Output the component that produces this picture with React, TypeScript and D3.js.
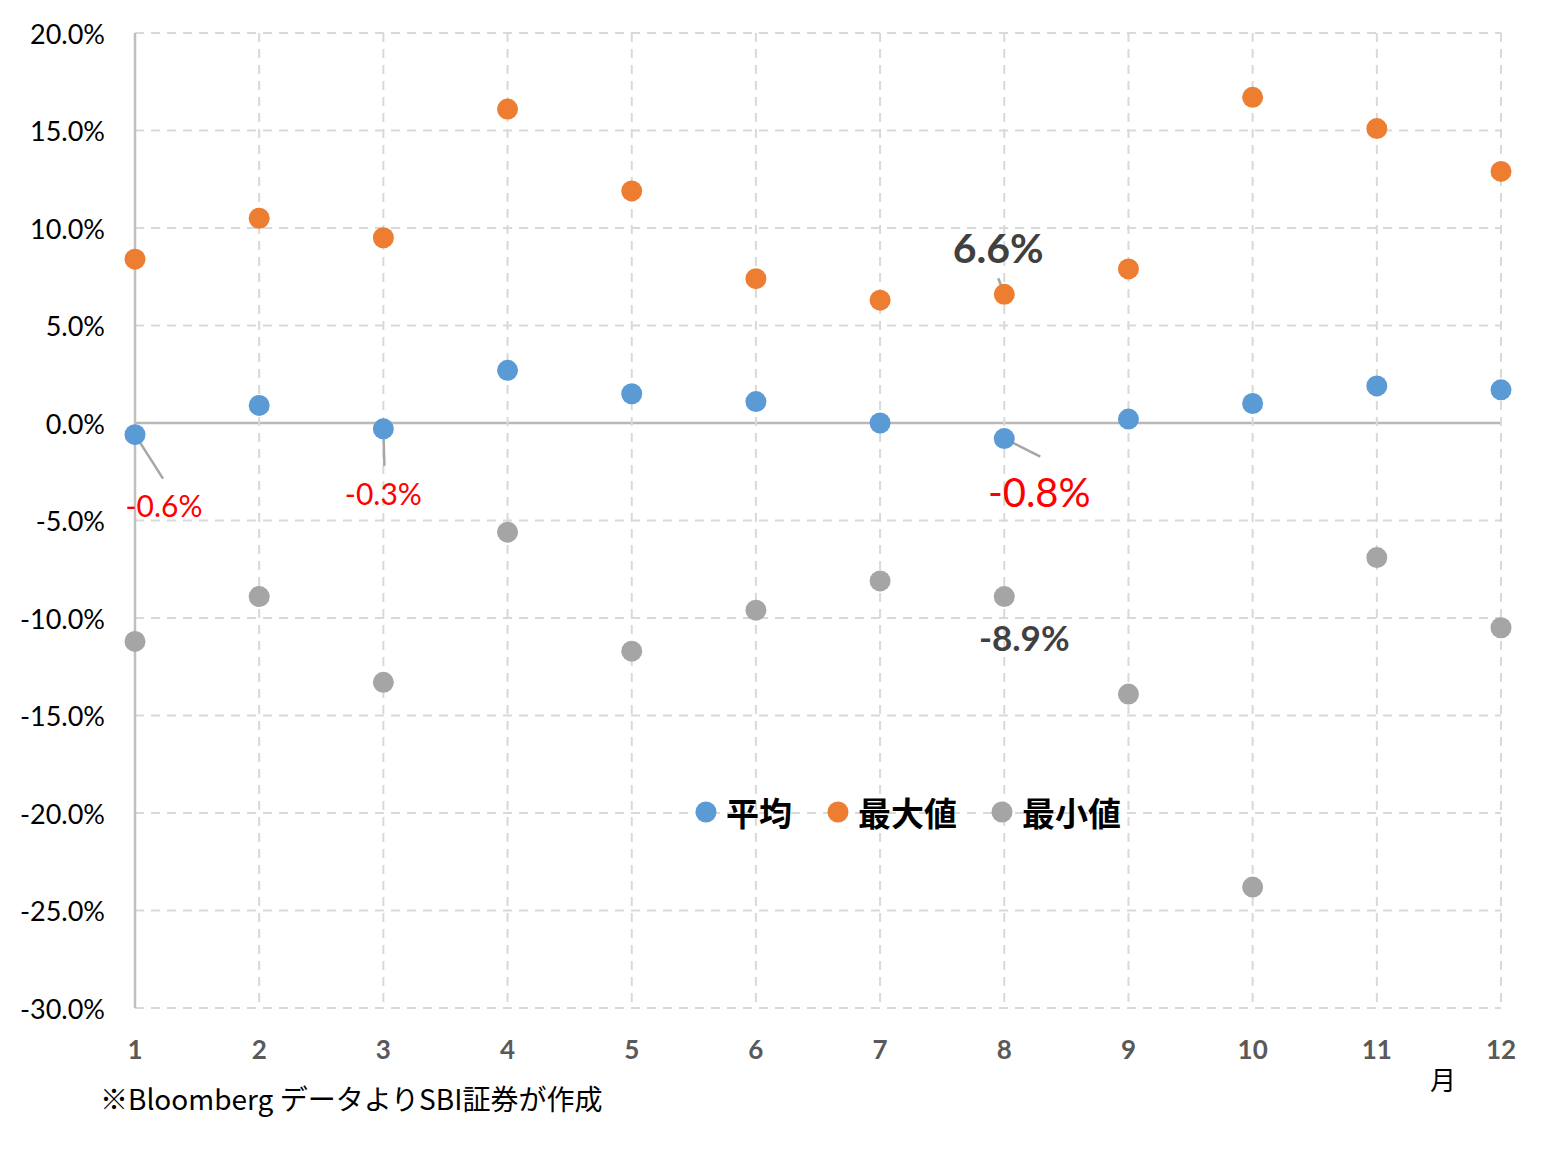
import * as d3 from "d3";

const MONTHS = [1, 2, 3, 4, 5, 6, 7, 8, 9, 10, 11, 12];
const AVG = [-0.6, 0.9, -0.3, 2.7, 1.5, 1.1, 0.0, -0.8, 0.2, 1.0, 1.9, 1.7];
const MAX = [8.4, 10.5, 9.5, 16.1, 11.9, 7.4, 6.3, 6.6, 7.9, 16.7, 15.1, 12.9];
const MIN = [-11.2, -8.9, -13.3, -5.6, -11.7, -9.6, -8.1, -8.9, -13.9, -23.8, -6.9, -10.5];
const Y_TICKS = [20, 15, 10, 5, 0, -5, -10, -15, -20, -25, -30];

const SERIES = [
  { name: "平均", values: AVG, color: "#5b9bd5" },
  { name: "最大値", values: MAX, color: "#ed7d31" },
  { name: "最小値", values: MIN, color: "#a5a5a5" },
];

const LATIN = "Lato, 'Noto Sans', sans-serif";
const CJK = "'Noto Sans CJK JP', sans-serif";

const W = 1548;
const H = 1160;
const M = { top: 33, left: 135, right: 47, bottom: 152 };

export default function App() {
  const x = d3.scaleLinear().domain([1, 12]).range([M.left, W - M.right]);
  const y = d3.scaleLinear().domain([-30, 20]).range([H - M.bottom, M.top]);
  const R = 10.5;

  // data labels with leader lines (offsets from the point)
  const callouts = [
    { s: 0, m: 1, text: "-0.6%", tx: 29, ty: 70, size: 30, color: "#ff0000", bold: false, lx: 28, ly: 44 },
    { s: 0, m: 3, text: "-0.3%", tx: 0, ty: 64, size: 30, color: "#ff0000", bold: false, lx: 1, ly: 37 },
    { s: 0, m: 8, text: "-0.8%", tx: 35, ty: 53, size: 40, color: "#ff0000", bold: false, lx: 36, ly: 18 },
    { s: 1, m: 8, text: "6.6%", tx: -6, ty: -47, size: 41, color: "#404040", bold: true, lx: -6, ly: -16 },
    { s: 2, m: 8, text: "-8.9%", tx: 20, ty: 40, size: 35, color: "#404040", bold: true, lx: 0, ly: 0 },
  ];

  return (
    <svg
      width={W}
      height={H}
      style={{ position: "absolute", left: 0, top: 0, background: "#fff" }}
    >
      {/* horizontal grid */}
      {Y_TICKS.map((t) => (
        <line
          key={"h" + t}
          x1={x(1)}
          x2={x(12)}
          y1={y(t)}
          y2={y(t)}
          stroke={t === 0 ? "#b8b8b8" : "#d9d9d9"}
          strokeWidth={t === 0 ? 2.5 : 2}
          strokeDasharray={t === 0 ? undefined : "9 7"}
        />
      ))}
      {/* vertical grid */}
      {MONTHS.slice(1).map((m) => (
        <line
          key={"v" + m}
          x1={x(m)}
          x2={x(m)}
          y1={y(20)}
          y2={y(-30)}
          stroke="#d9d9d9"
          strokeWidth={2}
          strokeDasharray="9 7"
        />
      ))}
      <line x1={x(1)} x2={x(1)} y1={y(20)} y2={y(-30)} stroke="#bfbfbf" strokeWidth={2.5} />

      {/* y labels */}
      {Y_TICKS.map((t) => (
        <text
          key={"yl" + t}
          x={105}
          y={y(t)}
          textAnchor="end"
          dominantBaseline="central"
          fontFamily={LATIN}
          fontSize={27}
          fill="#000"
        >
          {t.toFixed(1) + "%"}
        </text>
      ))}
      {/* x labels */}
      {MONTHS.map((m) => (
        <text
          key={"xl" + m}
          x={x(m)}
          y={1049}
          textAnchor="middle"
          dominantBaseline="central"
          fontFamily={LATIN}
          fontWeight="bold"
          fontSize={26}
          fill="#595959"
        >
          {m}
        </text>
      ))}
      <text x={1443} y={1078} textAnchor="middle" dominantBaseline="central" fontFamily={CJK} fontSize={26} fill="#000">
        月
      </text>

      {/* leader lines */}
      {callouts
        .filter((c) => c.lx !== 0 || c.ly !== 0)
        .map((c, i) => {
          const cx = x(c.m);
          const cy = y(SERIES[c.s].values[c.m - 1]);
          return (
            <line key={"ld" + i} x1={cx} y1={cy} x2={cx + c.lx} y2={cy + c.ly} stroke="#a6a6a6" strokeWidth={2.5} />
          );
        })}

      {/* points */}
      {SERIES.map((s) =>
        s.values.map((v, i) => (
          <circle key={s.name + i} cx={x(MONTHS[i])} cy={y(v)} r={R} fill={s.color} />
        ))
      )}

      {/* callout labels */}
      {callouts.map((c, i) => {
        const cx = x(c.m);
        const cy = y(SERIES[c.s].values[c.m - 1]);
        return (
          <text
            key={"cl" + i}
            x={cx + c.tx}
            y={cy + c.ty}
            textAnchor="middle"
            dominantBaseline="central"
            fontFamily={LATIN}
            fontWeight={c.bold ? "bold" : "normal"}
            fontSize={c.size}
            fill={c.color}
          >
            {c.text}
          </text>
        );
      })}

      {/* legend */}
      {SERIES.map((s, i) => {
        const lx = [706, 838, 1002][i];
        return (
          <g key={"lg" + s.name}>
            <circle cx={lx} cy={812} r={10.5} fill={s.color} />
            <text
              x={lx + 20}
              y={812}
              dominantBaseline="central"
              fontFamily={CJK}
              fontWeight="bold"
              fontSize={33}
              fill="#000"
            >
              {s.name}
            </text>
          </g>
        );
      })}

      <text x={100} y={1098} dominantBaseline="central" fontFamily={CJK} fontSize={28} fill="#000">
        ※Bloomberg データよりSBI証券が作成
      </text>
    </svg>
  );
}
